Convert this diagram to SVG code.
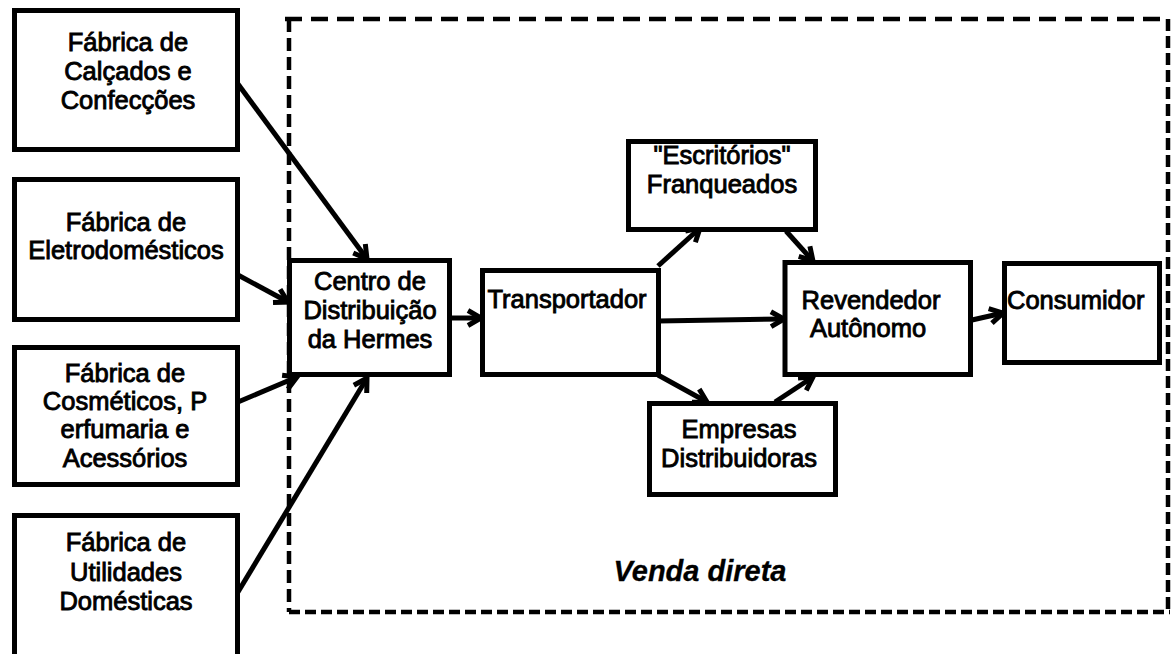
<svg xmlns="http://www.w3.org/2000/svg" width="1175" height="654" viewBox="0 0 1175 654">
  <style>
    .box { fill: #fff; stroke: #000; stroke-width: 5; }
    .lbl { font-family: "Liberation Sans", Arial, sans-serif; font-size: 25.5px; fill: #000; stroke: #000; stroke-width: 0.9; text-anchor: middle; }
    .start { text-anchor: start; }
    .caption { font-size: 29px; font-style: italic; font-weight: bold; stroke-width: 0.3; }
    .zone { fill: none; stroke: #000; stroke-width: 4.5; }
    .link { fill: none; stroke: #000; stroke-width: 5; marker-end: url(#head); }
  </style>
  <defs>
    <marker id="head" markerUnits="userSpaceOnUse" markerWidth="22" markerHeight="22" viewBox="0 0 22 22" refX="17" refY="11" orient="auto">
      <path d="M4,3.5 L17,11 L4,18.5" fill="none" stroke="#000" stroke-width="5" stroke-linejoin="miter"/>
    </marker>
  </defs>

  <rect width="1175" height="654" fill="#fff"/>

  <!-- dashed boundary of the direct-sales area -->
  <g id="venda-direta">
    <line class="zone" x1="285" y1="19" x2="1168" y2="19" stroke-dasharray="17 9"/>
    <line class="zone" x1="289" y1="19" x2="289" y2="612" stroke-dasharray="13 6"/>
    <line class="zone" x1="1168" y1="19" x2="1168" y2="612" stroke-dasharray="12 5"/>
    <line class="zone" x1="289" y1="612" x2="1170" y2="612" stroke-dasharray="11 5"/>
    <text class="lbl caption" x="700" y="581">Venda direta</text>
  </g>

  <!-- connectors -->
  <g id="connectors">
    <line class="link" x1="238" y1="84" x2="367" y2="259"/>
    <line class="link" x1="238" y1="275" x2="288" y2="302"/>
    <line class="link" x1="238" y1="402" x2="297" y2="377"/>
    <line class="link" x1="238" y1="592" x2="367" y2="378"/>
    <line class="link" x1="450" y1="318" x2="481" y2="318"/>
    <line class="link" x1="658" y1="266" x2="700" y2="228"/>
    <line class="link" x1="658" y1="321" x2="784" y2="319"/>
    <line class="link" x1="658" y1="375" x2="707" y2="402"/>
    <line class="link" x1="786" y1="231" x2="813" y2="261"/>
    <line class="link" x1="775" y1="402" x2="813" y2="377"/>
    <line class="link" x1="972" y1="320" x2="1003" y2="313"/>
  </g>

  <!-- factories -->
  <g id="fabrica-calcados">
    <rect class="box" x="14.5" y="10.5" width="223" height="139"/>
    <text class="lbl" x="128" y="51">Fábrica de</text>
    <text class="lbl" x="128" y="80">Calçados e</text>
    <text class="lbl" x="128" y="109">Confecções</text>
  </g>
  <g id="fabrica-eletro">
    <rect class="box" x="14.5" y="179.5" width="223" height="140"/>
    <text class="lbl" x="126" y="231">Fábrica de</text>
    <text class="lbl" x="126" y="259">Eletrodomésticos</text>
  </g>
  <g id="fabrica-cosmeticos">
    <rect class="box" x="14.5" y="347.5" width="223" height="137"/>
    <text class="lbl" x="125" y="382">Fábrica de</text>
    <text class="lbl" x="125" y="410">Cosméticos, P</text>
    <text class="lbl" x="125" y="438">erfumaria e</text>
    <text class="lbl" x="125" y="467">Acessórios</text>
  </g>
  <g id="fabrica-utilidades">
    <rect class="box" x="14.5" y="515.5" width="223" height="160"/>
    <text class="lbl" x="126" y="551">Fábrica de</text>
    <text class="lbl" x="126" y="581">Utilidades</text>
    <text class="lbl" x="126" y="610">Domésticas</text>
  </g>

  <!-- distribution chain -->
  <g id="centro-distribuicao">
    <rect class="box" x="289.5" y="260.5" width="160" height="114"/>
    <text class="lbl" x="370" y="290">Centro de</text>
    <text class="lbl" x="370" y="319">Distribuição</text>
    <text class="lbl" x="370" y="348">da Hermes</text>
  </g>
  <g id="transportador">
    <rect class="box" x="482.5" y="270.5" width="176" height="104"/>
    <text class="lbl" x="567" y="308">Transportador</text>
  </g>
  <g id="escritorios">
    <rect class="box" x="628.5" y="141.5" width="187" height="88"/>
    <text class="lbl" x="722" y="164">"Escritórios"</text>
    <text class="lbl" x="722" y="193">Franqueados</text>
  </g>
  <g id="empresas">
    <rect class="box" x="649.5" y="403.5" width="186" height="91"/>
    <text class="lbl" x="739" y="438">Empresas</text>
    <text class="lbl" x="739" y="467">Distribuidoras</text>
  </g>
  <g id="revendedor">
    <rect class="box" x="785" y="262.5" width="185.5" height="112"/>
    <text class="lbl" x="871" y="309">Revendedor</text>
    <text class="lbl" x="868" y="337">Autônomo</text>
  </g>
  <g id="consumidor">
    <rect class="box" x="1004.5" y="263.5" width="155" height="99"/>
    <text class="lbl start" x="1007" y="309">Consumidor</text>
  </g>
</svg>
